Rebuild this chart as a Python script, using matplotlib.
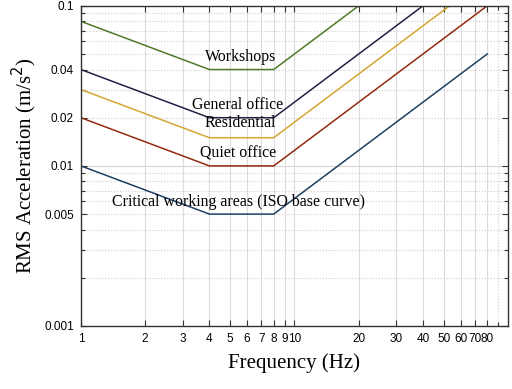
import numpy as np
import matplotlib.pyplot as plt
from matplotlib.ticker import FixedLocator, NullFormatter

# corner frequencies (Hz) of the ISO 2631 style curves
freq = [1, 4, 8, 80]
critical = [0.01, 0.005, 0.005, 0.05]
quiet_office = [0.02, 0.01, 0.01, 0.1]
residential = [0.03, 0.015, 0.015, 0.15]
general_office = [0.04, 0.02, 0.02, 0.2]
workshops = [0.08, 0.04, 0.04, 0.4]

xticks = [1, 2, 3, 4, 5, 6, 7, 8, 9, 10, 20, 30, 40, 50, 60, 70, 80]
yticks = [0.001, 0.005, 0.01, 0.02, 0.04, 0.1]
yticklabels = ['0.001', '0.005', '0.01', '0.02', '0.04', '0.1']

fig = plt.figure(figsize=(5.12, 3.89), dpi=100)
ax = fig.add_axes([0.158, 0.162, 0.834, 0.823])

ax.plot(freq, workshops, color='#4f7a28', lw=1.1)
ax.plot(freq, general_office, color='#2b1d45', lw=1.1)
ax.plot(freq, residential, color='#d4a634', lw=1.1)
ax.plot(freq, quiet_office, color='#922a12', lw=1.1)
ax.plot(freq, critical, color='#1f3f63', lw=1.1)

ax.set_xscale('log')
ax.set_yscale('log')
ax.set_xlim(1, 100)
ax.set_ylim(0.001, 0.1)

ax.xaxis.set_major_locator(FixedLocator(xticks))
ax.xaxis.set_minor_locator(FixedLocator([90]))
ax.set_xticklabels([str(t) for t in xticks])
ax.xaxis.set_minor_formatter(NullFormatter())

yminor = [0.002, 0.003, 0.004, 0.006, 0.007, 0.008, 0.009,
          0.03, 0.05, 0.06, 0.07, 0.08, 0.09]
ax.yaxis.set_major_locator(FixedLocator(yticks))
ax.yaxis.set_minor_locator(FixedLocator(yminor))
ax.set_yticklabels(yticklabels)
ax.yaxis.set_minor_formatter(NullFormatter())

# grid
ax.grid(True, axis='x', which='major', color='#dcdcdc', lw=0.8, ls='-')
ax.grid(True, axis='x', which='minor', color='#d0d0d0', lw=0.8, ls=':')
ax.grid(True, axis='y', which='both', color='#cccccc', lw=0.8, ls=':')
ax.axhline(0.01, color='#dcdcdc', lw=0.8, zorder=0.5)
ax.set_axisbelow(True)

ax.tick_params(which='both', direction='in', top=True, right=True,
               length=4, width=0.8, color='#333333', labelsize=8.5, pad=5)
ax.tick_params(which='minor', length=3)
for lbl in ax.get_xticklabels() + ax.get_yticklabels():
    lbl.set_fontfamily('Liberation Sans')
for s in ax.spines.values():
    s.set_color('#333333')
    s.set_linewidth(1.0)

serif = 'Liberation Serif'
ax.text(5.58, 0.048, 'Workshops', family=serif, fontsize=11.4, ha='center', va='center')
ax.text(5.45, 0.024, 'General office', family=serif, fontsize=11.4, ha='center', va='center')
ax.text(5.58, 0.0186, 'Residential', family=serif, fontsize=11.4, ha='center', va='center')
ax.text(5.45, 0.012, 'Quiet office', family=serif, fontsize=11.4, ha='center', va='center')
ax.text(5.45, 0.00596, 'Critical working areas (ISO base curve)', family=serif,
        fontsize=11.4, ha='center', va='center')

ax.set_xlabel('Frequency (Hz)', family=serif, fontsize=15, labelpad=6)
ax.set_ylabel('RMS Acceleration (m/s$^2$)', family=serif, fontsize=15, labelpad=4)

fig.savefig('out.png', dpi=100)
